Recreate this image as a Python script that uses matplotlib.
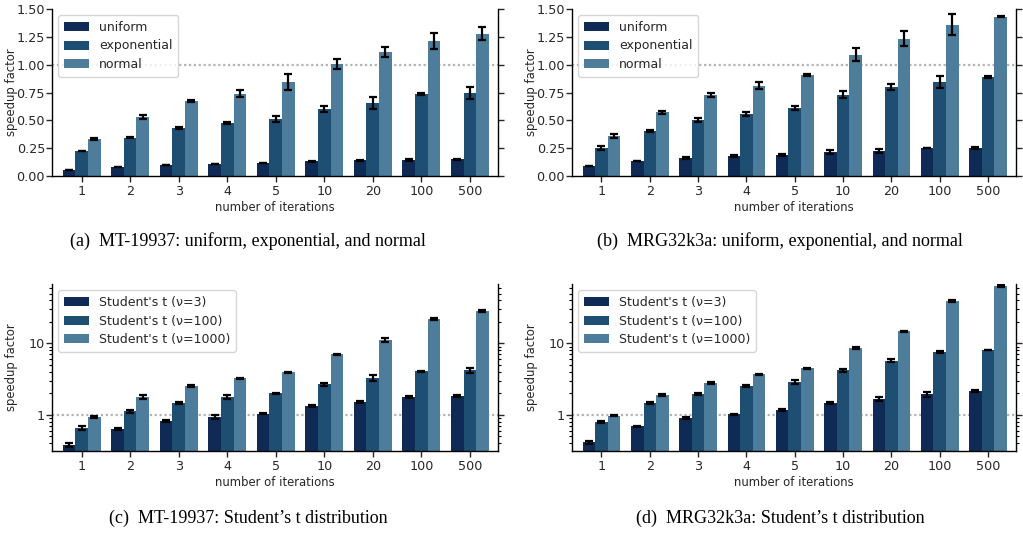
import numpy as np
import matplotlib
matplotlib.use("Agg")
import matplotlib.pyplot as plt
from matplotlib.ticker import FixedLocator, FixedFormatter, LogLocator, NullFormatter

iterations = ["1", "2", "3", "4", "5", "10", "20", "100", "500"]

# (a) MT-19937
mt_uniform = [0.054, 0.081, 0.099, 0.108, 0.117, 0.132, 0.141, 0.144, 0.150]
mt_uniform_err = [0.004, 0.004, 0.004, 0.004, 0.004, 0.006, 0.004, 0.006, 0.006]
mt_exponential = [0.225, 0.345, 0.432, 0.477, 0.513, 0.603, 0.657, 0.738, 0.747]
mt_exponential_err = [0.004, 0.008, 0.010, 0.010, 0.030, 0.030, 0.052, 0.010, 0.055]
mt_normal = [0.333, 0.531, 0.675, 0.738, 0.846, 1.005, 1.116, 1.215, 1.278]
mt_normal_err = [0.010, 0.020, 0.008, 0.030, 0.070, 0.045, 0.045, 0.070, 0.060]

# (b) MRG32k3a
mrg_uniform = [0.090, 0.135, 0.162, 0.183, 0.192, 0.216, 0.225, 0.252, 0.255]
mrg_uniform_err = [0.004, 0.004, 0.010, 0.008, 0.010, 0.015, 0.020, 0.003, 0.008]
mrg_exponential = [0.252, 0.405, 0.504, 0.558, 0.612, 0.729, 0.798, 0.843, 0.891]
mrg_exponential_err = [0.015, 0.010, 0.015, 0.020, 0.015, 0.030, 0.030, 0.057, 0.008]
mrg_normal = [0.360, 0.573, 0.729, 0.810, 0.909, 1.089, 1.233, 1.359, 1.431]
mrg_normal_err = [0.015, 0.015, 0.020, 0.030, 0.010, 0.057, 0.066, 0.093, 0.005]

# (c) MT-19937 Student's t
mt_t3 = [0.376, 0.630, 0.824, 0.927, 1.04, 1.32, 1.505, 1.77, 1.83]
mt_t3_err = [0.02, 0.02, 0.03, 0.05, 0.03, 0.04, 0.05, 0.08, 0.08]
mt_t100 = [0.65, 1.11, 1.46, 1.77, 1.99, 2.66, 3.27, 4.05, 4.23]
mt_t100_err = [0.04, 0.04, 0.03, 0.10, 0.05, 0.12, 0.33, 0.08, 0.35]
mt_t1000 = [0.92, 1.77, 2.52, 3.23, 3.92, 7.01, 11.1, 21.9, 28.4]
mt_t1000_err = [0.03, 0.10, 0.06, 0.08, 0.10, 0.15, 0.80, 0.70, 1.2]

# (d) MRG32k3a Student's t
mrg_t3 = [0.41, 0.686, 0.898, 1.02, 1.16, 1.46, 1.66, 1.95, 2.15]
mrg_t3_err = [0.02, 0.02, 0.03, 0.02, 0.03, 0.04, 0.10, 0.15, 0.06]
mrg_t100 = [0.79, 1.46, 1.95, 2.52, 2.87, 4.23, 5.71, 7.56, 8.07]
mrg_t100_err = [0.02, 0.04, 0.06, 0.08, 0.15, 0.20, 0.25, 0.20, 0.10]
mrg_t1000 = [0.97, 1.89, 2.78, 3.67, 4.51, 8.51, 14.9, 39.2, 63.6]
mrg_t1000_err = [0.02, 0.04, 0.05, 0.10, 0.08, 0.25, 0.25, 1.0, 1.2]

labels_top = ["uniform", "exponential", "normal"]
labels_bot = ["Student's t (\u03bd=3)", "Student's t (\u03bd=100)", "Student's t (\u03bd=1000)"]
colors = ["#0f2b55", "#1f4e73", "#4d7d9b"]

captions = ["(a)  MT-19937: uniform, exponential, and normal",
            "(b)  MRG32k3a: uniform, exponential, and normal",
            "(c)  MT-19937: Student\u2019s t distribution",
            "(d)  MRG32k3a: Student\u2019s t distribution"]

plt.rcParams['font.family'] = ['DejaVu Sans']
plt.rcParams['axes.linewidth'] = 1.0

fig = plt.figure(figsize=(10.23, 5.33), dpi=100)
W, H = 1023, 533

def make_ax(x0, x1, y0, y1):
    return fig.add_axes([x0 / W, 1 - y1 / H, (x1 - x0) / W, (y1 - y0) / H])

axes = [make_ax(52, 498, 9, 176), make_ax(572, 1016, 9, 176),
        make_ax(52, 498, 284, 451), make_ax(572, 1016, 284, 451)]

datasets = [
    ([mt_uniform, mt_exponential, mt_normal], [mt_uniform_err, mt_exponential_err, mt_normal_err], labels_top, False),
    ([mrg_uniform, mrg_exponential, mrg_normal], [mrg_uniform_err, mrg_exponential_err, mrg_normal_err], labels_top, False),
    ([mt_t3, mt_t100, mt_t1000], [mt_t3_err, mt_t100_err, mt_t1000_err], labels_bot, True),
    ([mrg_t3, mrg_t100, mrg_t1000], [mrg_t3_err, mrg_t100_err, mrg_t1000_err], labels_bot, True),
]

x = np.arange(len(iterations))
bw = 0.26
text_col = "#262626"

for ax, (vals, errs, labs, logy) in zip(axes, datasets):
    for i, (v, e, lab, c) in enumerate(zip(vals, errs, labs, colors)):
        ax.bar(x + (i - 1) * bw, v, bw, color=c, label=lab, zorder=2)
        ax.errorbar(x + (i - 1) * bw, v, yerr=e, fmt='none', ecolor='black',
                    elinewidth=1.6, capsize=3.2, capthick=1.6, zorder=3)
    ax.axhline(1.0, color="#b3b3b3", linestyle=(0, (1, 1.2)), linewidth=1.6, zorder=1)
    ax.set_xlim(-0.61, 8.58)
    ax.set_xticks(x)
    ax.set_xticklabels(iterations)
    if logy:
        ax.set_yscale('log')
        ax.set_ylim(0.31, 68)
        ax.yaxis.set_major_locator(FixedLocator([1, 10]))
        ax.yaxis.set_major_formatter(FixedFormatter(["1", "10"]))
        ax.yaxis.set_minor_locator(LogLocator(base=10, subs=np.arange(2, 10), numticks=20))
        ax.yaxis.set_minor_formatter(NullFormatter())
    else:
        ax.set_ylim(0, 1.5)
        ax.set_yticks([0, 0.25, 0.5, 0.75, 1.0, 1.25, 1.5])
        ax.set_yticklabels(["0.00", "0.25", "0.50", "0.75", "1.00", "1.25", "1.50"])
    ax.spines['top'].set_visible(False)
    ax.tick_params(axis='both', which='major', direction='out', length=4, width=1.0,
                   labelsize=9.2, colors=text_col)
    ax.tick_params(axis='x', pad=2.5)
    ax.tick_params(axis='y', which='both', right=True, labelright=False, pad=1)
    ax.tick_params(axis='y', which='minor', length=2.2, width=0.8)
    ax.set_xlabel("number of iterations", fontsize=8.4, color=text_col, labelpad=2)
    ax.set_ylabel("speedup factor", fontsize=8.4, color=text_col)
    ax.yaxis.set_label_coords(-0.076, 0.5)
    leg = ax.legend(loc='upper left', fontsize=9, labelspacing=0.45,
                    framealpha=0.8, borderpad=0.45)
    for t in leg.get_texts():
        t.set_color(text_col)

cap_pos = [(248, 241), (780, 241), (248, 518), (780, 518)]
for (cx, cy), txt in zip(cap_pos, captions):
    fig.text(cx / W, 1 - cy / H, txt, ha='center', va='center',
             fontsize=13, family=['Liberation Serif', 'DejaVu Serif'], color='black')

fig.savefig("out.png", dpi=100)
